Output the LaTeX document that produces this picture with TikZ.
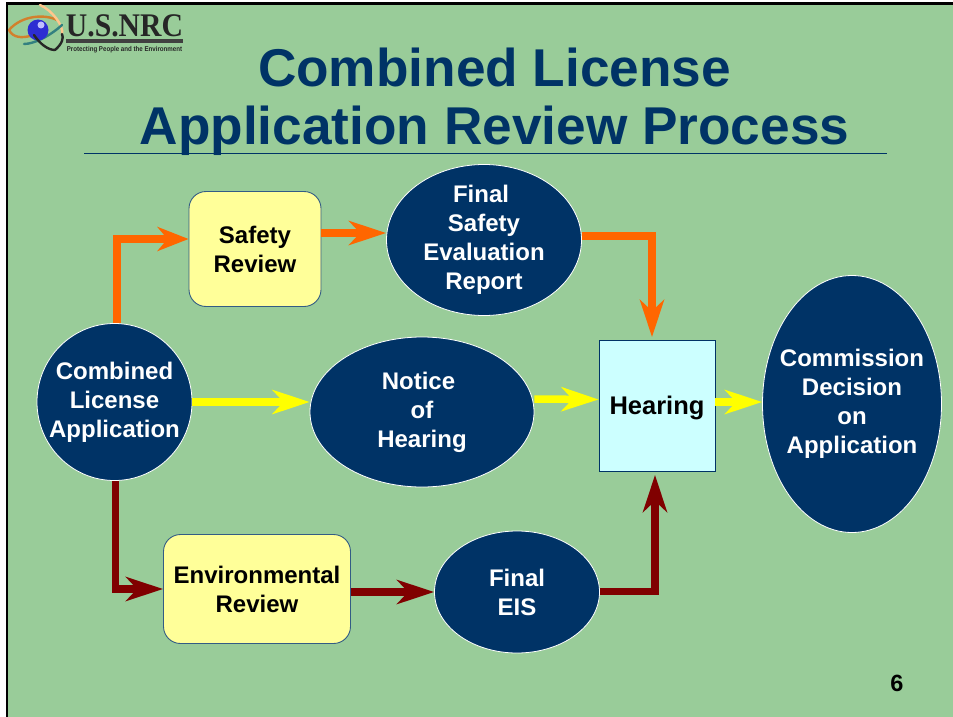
\documentclass[tikz,border=0pt]{standalone}
\usepackage{fontspec}
\usepackage{graphicx}
\setmainfont{Liberation Sans}
\newfontfamily\logofont{Liberation Serif}
\usetikzlibrary{shapes.geometric,arrows.meta,calc}
\definecolor{slidegreen}{HTML}{99CC99}
\definecolor{navy}{HTML}{003366}
\definecolor{paleyellow}{HTML}{FFFF99}
\definecolor{paleblue}{HTML}{CCFFFF}
\definecolor{orangeline}{HTML}{FF6600}
\definecolor{maroonline}{HTML}{800000}
\definecolor{yellowline}{HTML}{FFFF00}
\tikzset{
 x=1pt,y=-1pt,
 lowered/.style={execute at begin node={\rule{0pt}{23pt}}},
 bubble/.style={ellipse,draw=white,line width=.8pt,fill=navy,text=white,font=\fontsize{24}{29}\selectfont\bfseries,align=center,inner sep=-14pt,lowered},
 softbox/.style={rectangle,rounded corners=17pt,draw=navy!80!white,line width=.9pt,fill=paleyellow,text=black,font=\fontsize{24}{29}\selectfont\bfseries,align=center,inner sep=0pt,lowered},
 flow/.style={line width=7.5pt,-{Stealth[length=37pt,width=24pt,inset=11pt]},miter limit=10},
 shortflow/.style={line width=7.5pt,-{Stealth[length=31pt,width=24pt,inset=10pt]},miter limit=10},
 orbit/.style={line width=2.4pt,line cap=round},
}
\begin{document}
\begin{tikzpicture}
\useasboundingbox (0,0) rectangle (953,717);
\fill[white] (0,0) rectangle (953,717);
\fill[slidegreen] (7,4) rectangle (953,717);
\fill[black] (6,2) rectangle (953,5);
\fill[black] (6,2) rectangle (8,717);
% logo
\draw[orbit,brown!70!orange] (9,30) .. controls (22,15) and (45,14) .. (57,20);
\draw[orbit,brown!70!orange] (9,30) .. controls (13,38) and (22,38) .. (30,36);
\draw[orbit,orange!45!white] (40,5) .. controls (52,10) and (64,26) .. (62,34);
\draw[orbit,teal!60!gray] (24,44) .. controls (34,44) and (50,36) .. (62,25);
\fill[blue!65!gray] (38,30) circle (10.5);
\fill[blue!25!white] (41,25) circle (3.5);
\draw[orbit,black!85] (34,35) .. controls (40,44) and (48,50) .. (55,50);
\draw[orbit,black!85] (55,50) .. controls (62,44) and (64,38) .. (62,34);
\node[font=\logofont\bfseries\fontsize{33}{33}\selectfont,text=black!85,inner sep=0pt] (logoname) at (124.5,26) {\scalebox{0.9}[1]{U.S.NRC}};
\fill[black!75] (66,39) rectangle (183,43);
\node[font=\fontsize{7}{7}\selectfont\bfseries,text=black!85,inner sep=0pt] (logotag) at (124.5,50) {\scalebox{0.88}[1]{Protecting People and the Environment}};
% title
\node[text=navy,font=\fontsize{53.2}{58}\selectfont\bfseries,align=center,inner sep=0pt] (title) at (494.5,102) {Combined License\\Application Review Process};
\draw[navy,line width=.9pt] (84,153) -- (887,153);
% nodes
\node[bubble,minimum width=155pt,minimum height=157pt] (app) at (114.5,402) {Combined\\License\\Application};
\node[softbox,minimum width=132pt,minimum height=115pt] (safe) at (255,249) {Safety\\Review};
\node[bubble,minimum width=195pt,minimum height=151pt] (fser) at (484,240) {Final\hspace*{6pt}\\Safety\\Evaluation\\Report};
\node[bubble,minimum width=224pt,minimum height=150pt] (notice) at (422,412) {Notice\hspace*{7pt}\\of\hspace*{8pt}\\Hearing};
\node[rectangle,draw=navy,line width=.9pt,fill=paleblue,minimum width=116pt,minimum height=131pt,inner sep=0pt,font=\fontsize{25.5}{29}\selectfont\bfseries,lowered] (hear) at (657,406) {Hearing};
\node[bubble,minimum width=179pt,minimum height=257pt] (deci) at (852,404) {Commission\\Decision\hspace*{6pt}\\on\\Application};
\node[softbox,minimum width=187pt,minimum height=109pt] (env) at (257,589) {Environmental\\Review};
\node[bubble,minimum width=165pt,minimum height=122pt] (eis) at (517,592) {Final\\EIS};
\node[font=\fontsize{23.5}{28}\selectfont\bfseries,inner sep=0pt] (pagenum) at (897,683) {6};
% connectors
\coordinate (safein) at ($(safe.west)+(0,-10)$);
\coordinate (appout) at ($(app.north)+(2.5,0)$);
\coordinate (hearop) at ($(hear.north)+(-5,-3)$);
\coordinate (hearip) at ($(hear.south)+(-2,3)$);
\coordinate (envout) at ($(app.south)+(1,0)$);
\draw[shortflow,orangeline] (appout) -- (appout |- safein) -- (safein);
\draw[flow,orangeline] ($(safe.east)+(0,-16)$) -- ($(fser.west)+(0,-7)$);
\draw[flow,orangeline] (fser.east |- 0,236) -- (hearop |- 0,236) -- (hearop);
\draw[flow,yellowline] (app.east) -- (notice.west |- app.east);
\draw[flow,yellowline] ($(notice.east)+(0,-13)$) -- (hear.west |- 0,399.5);
\draw[flow,yellowline] (hear.east |- 0,402) -- (deci.west |- 0,402);
\draw[flow,maroonline] (envout) -- (envout |- env.west) -- (env.west);
\draw[flow,maroonline] (env.east |- eis.west) -- (eis.west);
\draw[flow,maroonline] ($(eis.east)+(0,-0.5)$) -- (hearip |- 0,591.5) -- (hearip);
\end{tikzpicture}
\end{document}
